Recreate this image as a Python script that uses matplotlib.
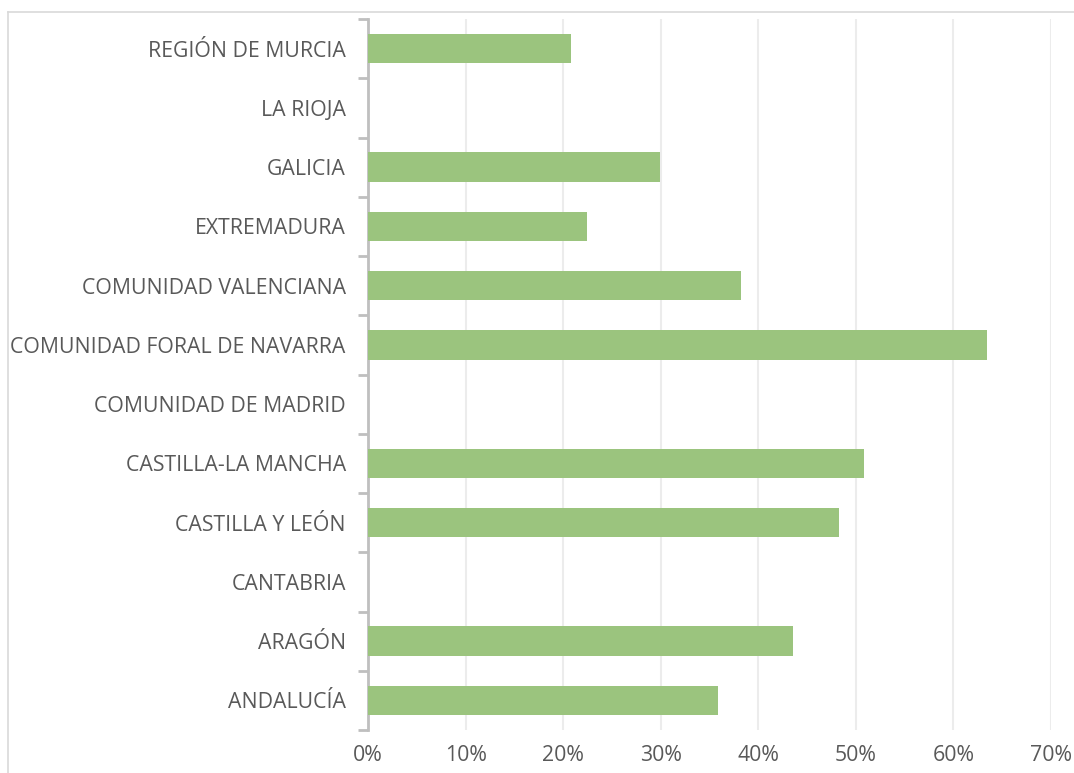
import matplotlib
matplotlib.use("Agg")
import matplotlib.pyplot as plt
from matplotlib.lines import Line2D
from matplotlib.ticker import FuncFormatter
import numpy as np

# regions, bottom to top as drawn
regions = ['ANDALUCÍA', 'ARAGÓN', 'CANTABRIA', 'CASTILLA Y LEÓN', 'CASTILLA-LA MANCHA',
           'COMUNIDAD DE MADRID', 'COMUNIDAD FORAL DE NAVARRA', 'COMUNIDAD VALENCIANA',
           'EXTREMADURA', 'GALICIA', 'LA RIOJA', 'REGIÓN DE MURCIA']
shares = [0.359, 0.436, 0.0, 0.483, 0.508, 0.0, 0.634, 0.382, 0.224, 0.299, 0.0, 0.208]

plt.rcParams['font.family'] = ['Open Sans', 'DejaVu Sans']

fig = plt.figure(figsize=(10.74, 7.73), dpi=100)
ax = fig.add_axes([368/1074, 1 - 730/773, (1051 - 368)/1074, (730 - 19)/773])

y = np.arange(len(regions))
ax.barh(y, shares, height=0.5, color='#9bc47e', edgecolor='none', zorder=3)

ax.set_xlim(0, 0.7)
ax.set_ylim(-0.5, len(regions) - 0.5)
ax.set_xticks(np.arange(0, 0.71, 0.1))
ax.xaxis.set_major_formatter(FuncFormatter(lambda v, p: f'{v*100:.0f}%'))
ax.grid(axis='x', color='#ececec', linewidth=1.5, zorder=0)

ax.set_yticks(y)
ax.set_yticklabels(regions)
ax.set_yticks(np.arange(-0.5, len(regions)), minor=True)
ax.tick_params(axis='y', which='major', length=0, pad=16, labelsize=15.3, labelcolor='#595959')
ax.tick_params(axis='y', which='minor', length=7, width=2, color='#bfbfbf', direction='out')
ax.tick_params(axis='x', length=0, pad=11, labelsize=15.3, labelcolor='#595959')

for s in ['top', 'right', 'bottom']:
    ax.spines[s].set_visible(False)
ax.spines['left'].set_color('#bfbfbf')
ax.spines['left'].set_linewidth(2)

# chart border (partly cropped)
fig.add_artist(Line2D([8/1074, 8/1074], [0, 1 - 12/773], color='#d9d9d9', linewidth=1.2))
fig.add_artist(Line2D([8/1074, 1], [1 - 12/773, 1 - 12/773], color='#d9d9d9', linewidth=1.2))

fig.savefig('out.png', dpi=100)
